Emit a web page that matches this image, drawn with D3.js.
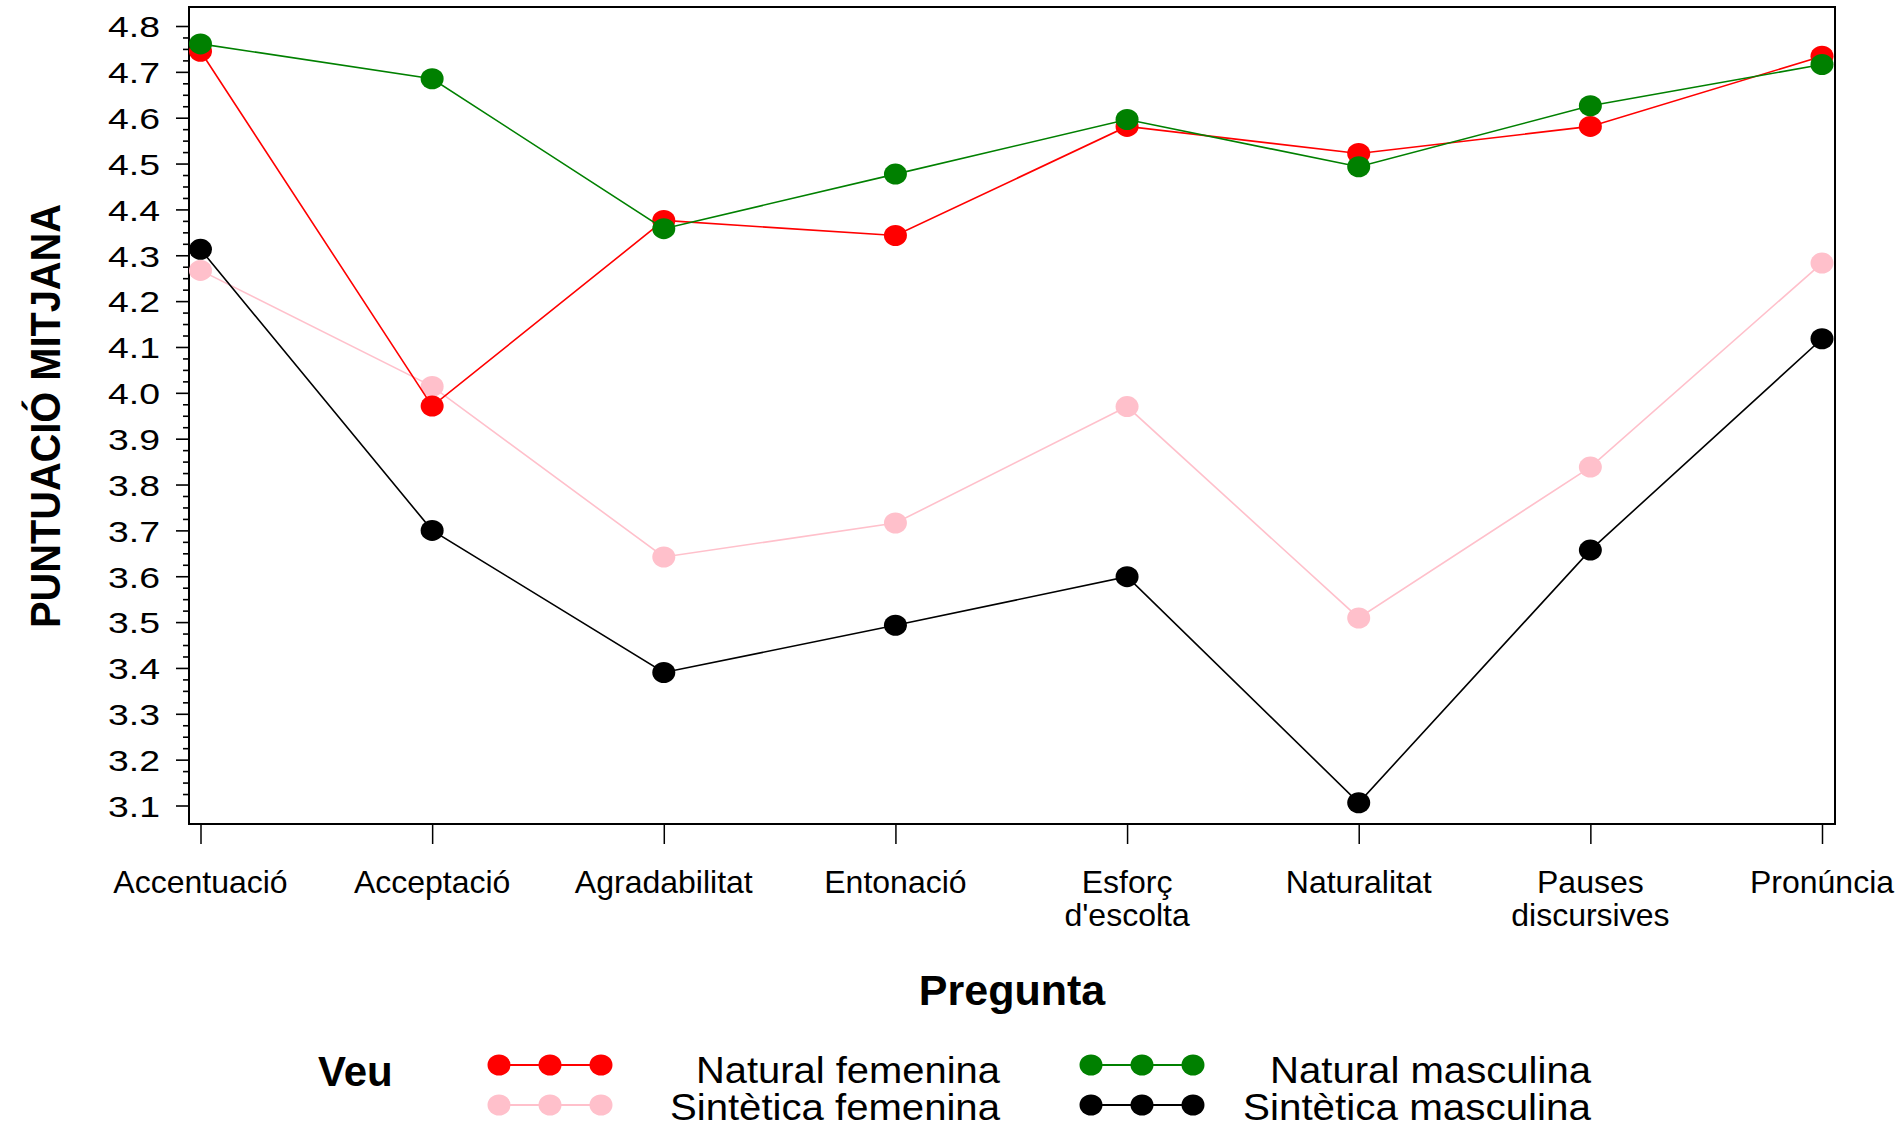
<!DOCTYPE html>
<html><head><meta charset="utf-8">
<script src="https://cdn.jsdelivr.net/npm/d3@7"></script>
<style>
body{margin:0;background:#fff}
svg{display:block}
text{font-family:"Liberation Sans",Arial,sans-serif;fill:#000}
</style>
</head><body>
<svg id="chart" width="1903" height="1128"></svg>
<script>
// ---- data ----
const categories = ["Accentuació","Acceptació","Agradabilitat","Entonació","Esforç d'escolta","Naturalitat","Pauses discursives","Pronúncia"];
const categoryLabelLines = [["Accentuació"],["Acceptació"],["Agradabilitat"],["Entonació"],["Esforç","d'escolta"],["Naturalitat"],["Pauses","discursives"],["Pronúncia"]];
const seriesNames = ["Natural femenina","Sintètica femenina","Natural masculina","Sintètica masculina"];
const seriesColors = ["#ff0000","#ffc0cb","#008000","#000000"];
const naturalFemenina   = [4.745, 3.971, 4.376, 4.343, 4.581, 4.522, 4.581, 4.734];
const sinteticaFemenina = [4.267, 4.014, 3.642, 3.716, 3.970, 3.509, 3.838, 4.283];
const naturalMasculina  = [4.761, 4.685, 4.358, 4.477, 4.596, 4.493, 4.626, 4.716];
const sinteticaMasculina= [4.313, 3.700, 3.390, 3.493, 3.599, 3.106, 3.657, 4.118];
const yTickValues = [3.1,3.2,3.3,3.4,3.5,3.6,3.7,3.8,3.9,4.0,4.1,4.2,4.3,4.4,4.5,4.6,4.7,4.8];
const yTickLabels = ["3.1","3.2","3.3","3.4","3.5","3.6","3.7","3.8","3.9","4.0","4.1","4.2","4.3","4.4","4.5","4.6","4.7","4.8"];
const xTitle = "Pregunta";
const yTitle = "PUNTUACIÓ MITJANA";
const legendTitle = "Veu";

const seriesValues = {
  "Natural femenina": naturalFemenina,
  "Sintètica femenina": sinteticaFemenina,
  "Natural masculina": naturalMasculina,
  "Sintètica masculina": sinteticaMasculina
};
const colorOf = d3.scaleOrdinal().domain(seriesNames).range(seriesColors);
const drawOrder = ["Sintètica femenina","Natural femenina","Natural masculina","Sintètica masculina"];

// ---- layout ----
const frame = {left:189, right:1835, top:7, bottom:824};
const svg = d3.select("#chart");

const x = d3.scalePoint().domain(categories).range([200.5, 1822]);
const y = d3.scaleLinear().domain([3.1, 4.8]).range([805.5, 26]);

// minor y ticks
const minorTicks = d3.range(0, 69).map(i => +(3.1 + i*0.025).toFixed(3)).filter(v => Math.abs(Math.round(v*10) - v*10) > 1e-6);
svg.append("g").attr("transform",`translate(${frame.left},0)`)
  .call(d3.axisLeft(y).tickValues(minorTicks).tickSize(6).tickFormat(""))
  .call(g => g.select(".domain").remove())
  .call(g => g.selectAll("line").attr("stroke","#000").attr("stroke-width",1.6));

// major y ticks
const yAxisG = svg.append("g").attr("transform",`translate(${frame.left},0)`)
  .call(d3.axisLeft(y).tickValues(yTickValues).tickSize(13).tickPadding(16)
        .tickFormat((d,i) => yTickLabels[i]))
  .call(g => g.select(".domain").remove())
  .call(g => g.selectAll("line").attr("stroke","#000").attr("stroke-width",1.6));
yAxisG.selectAll("text")
  .attr("font-size",30).attr("font-family",'"Liberation Sans",Arial,sans-serif')
  .attr("fill","#000").attr("dy","0.36em")
  .attr("textLength",52).attr("lengthAdjust","spacingAndGlyphs");

// x ticks
svg.append("g").attr("transform",`translate(0,${frame.bottom})`)
  .call(d3.axisBottom(x).tickSize(20).tickSizeOuter(0).tickFormat(""))
  .call(g => g.select(".domain").remove())
  .call(g => g.selectAll("line").attr("stroke","#000").attr("stroke-width",1.5));

// x labels
const xl = svg.append("g");
categories.forEach((c,i) => {
  const t = xl.append("text").attr("x", x(c)).attr("y", 893)
    .attr("text-anchor","middle").attr("font-size",32);
  categoryLabelLines[i].forEach((line,j) => {
    t.append("tspan").attr("x", x(c)).attr("dy", j===0 ? 0 : 33).text(line);
  });
});

// frame
svg.append("rect").attr("x",frame.left).attr("y",frame.top)
  .attr("width",frame.right-frame.left).attr("height",frame.bottom-frame.top)
  .attr("fill","none").attr("stroke","#000").attr("stroke-width",2);

// series
const line = d3.line().x((d,i)=>x(categories[i])).y(d=>y(d));
drawOrder.forEach(name => {
  const vals = seriesValues[name];
  const g = svg.append("g");
  g.append("path").datum(vals).attr("d",line).attr("fill","none")
    .attr("stroke",colorOf(name)).attr("stroke-width",1.6);
  g.selectAll("ellipse").data(vals).join("ellipse")
    .attr("cx",(d,i)=>x(categories[i])).attr("cy",d=>y(d))
    .attr("rx",11.5).attr("ry",10.5).attr("fill",colorOf(name));
});

// axis titles
svg.append("text").attr("x",1012).attr("y",1005).attr("text-anchor","middle")
  .attr("font-size",43).attr("font-weight","bold").text(xTitle);
svg.append("text").attr("transform","translate(60,416) rotate(-90)")
  .attr("text-anchor","middle").attr("font-size",43).attr("font-weight","bold")
  .attr("textLength",424).attr("lengthAdjust","spacingAndGlyphs").text(yTitle);

// legend
const lg = svg.append("g");
lg.append("text").attr("x",318).attr("y",1086).attr("font-size",42).attr("font-weight","bold").text(legendTitle);
const legendItems = [
  {name:"Natural femenina",    mx:[499,550,601],   cy:1065, tx:1000, ty:1083, w:304},
  {name:"Sintètica femenina",  mx:[499,550,601],   cy:1105, tx:1000, ty:1120, w:330},
  {name:"Natural masculina",   mx:[1091,1142,1193],cy:1065, tx:1591, ty:1083, w:321},
  {name:"Sintètica masculina", mx:[1091,1142,1193],cy:1105, tx:1591, ty:1120, w:348}
];
legendItems.forEach(it => {
  const c = colorOf(it.name);
  lg.append("line").attr("x1",it.mx[0]).attr("x2",it.mx[2]).attr("y1",it.cy).attr("y2",it.cy)
    .attr("stroke",c).attr("stroke-width",2);
  it.mx.forEach(mx => lg.append("ellipse").attr("cx",mx).attr("cy",it.cy).attr("rx",11.5).attr("ry",10.5).attr("fill",c));
  lg.append("text").attr("x",it.tx).attr("y",it.ty).attr("text-anchor","end")
    .attr("font-size",36).attr("textLength",it.w).attr("lengthAdjust","spacingAndGlyphs").text(it.name);
});
</script>
</body></html>
